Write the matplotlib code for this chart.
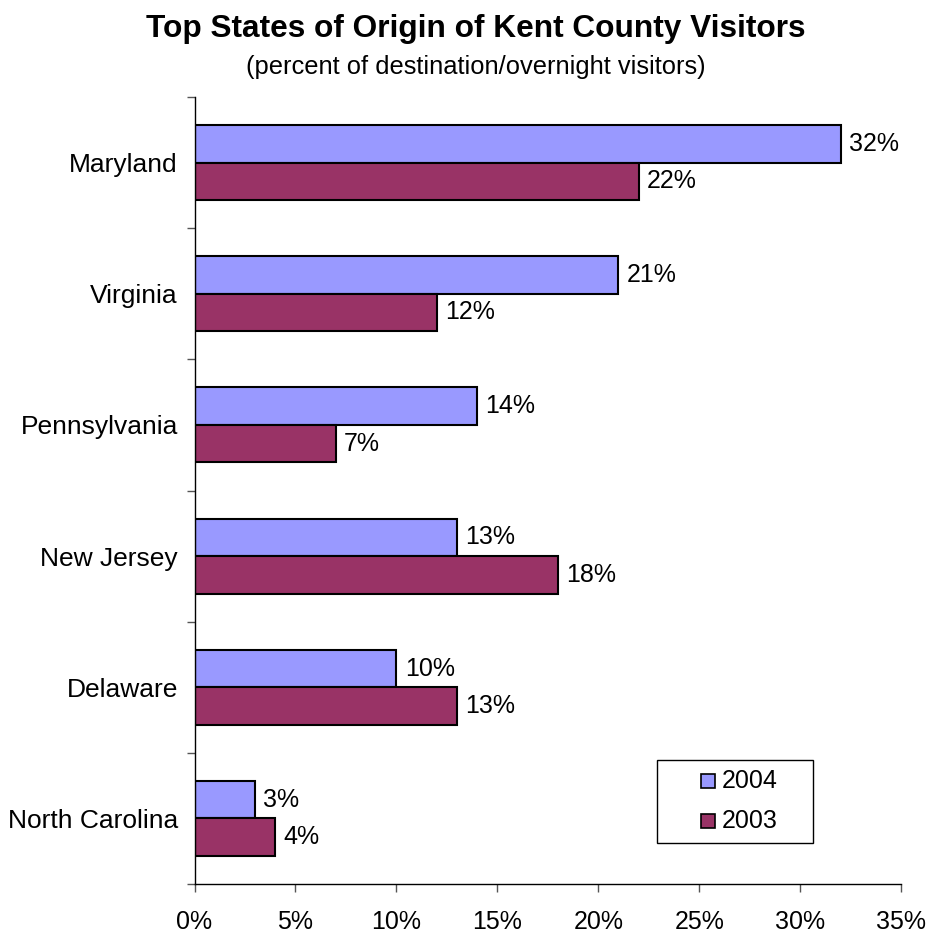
import numpy as np
import matplotlib.pyplot as plt
from matplotlib.patches import Rectangle

# ===== Данные =====
states = ['Maryland', 'Virginia', 'Pennsylvania', 'New Jersey', 'Delaware', 'North Carolina']
share_2004 = [32, 21, 14, 13, 10, 3]
share_2003 = [22, 12, 7, 18, 13, 4]
x_ticks = [0, 5, 10, 15, 20, 25, 30, 35]
series = [('2004', '#9999FF'), ('2003', '#993366')]

plt.rcParams['font.family'] = ['Liberation Sans', 'DejaVu Sans']

W, H = 928, 935
fig = plt.figure(figsize=(W / 100, H / 100), dpi=100)
ax = fig.add_axes([0.2096, 0.0545, 0.7614, 0.8418])

y = np.arange(len(states))
h = 0.286
bars04 = ax.barh(y - h / 2, share_2004, height=h, color=series[0][1],
                 edgecolor='black', linewidth=1.5)
bars03 = ax.barh(y + h / 2, share_2003, height=h, color=series[1][1],
                 edgecolor='black', linewidth=1.5)

# подписи значений справа от столбцов
for bars, vals in ((bars04, share_2004), (bars03, share_2003)):
    for b, v in zip(bars, vals):
        ax.annotate(f'{v}%', (v, b.get_y() + b.get_height() / 2),
                    xytext=(6, 0), textcoords='offset points',
                    ha='left', va='center', fontsize=18)

ax.set_xlim(0, 35)
ax.set_ylim(len(states) - 0.5, -0.5)

ax.set_xticks(x_ticks)
ax.set_xticklabels([f'{t}%' for t in x_ticks], fontsize=18)

# деления на границах категорий, подписи — по центру
ax.set_yticks(np.arange(-0.5, len(states), 1.0))
ax.set_yticklabels([])
ax.set_yticks(y, minor=True)
ax.set_yticklabels(states, minor=True, fontsize=19)
ax.tick_params(axis='y', which='minor', length=0, pad=12)
ax.tick_params(axis='y', which='major', length=6, width=1, color='#555555')
ax.tick_params(axis='x', length=6, width=1, color='#555555', pad=13)

for side in ('top', 'right'):
    ax.spines[side].set_visible(False)
for side in ('left', 'bottom'):
    ax.spines[side].set_linewidth(1)
    ax.spines[side].set_color('black')

fig.text(476 / W, 1 - 37 / H, 'Top States of Origin of Kent County Visitors',
         ha='center', va='baseline', fontsize=22.8, fontweight='bold')
fig.text(476 / W, 1 - 74 / H, '(percent of destination/overnight visitors)',
         ha='center', va='baseline', fontsize=18.4)

# легенда: рамка, квадратики и подписи (в пикселях фигуры)
fig.patches.append(Rectangle((657 / W, 1 - 843 / H), 156 / W, 83 / H,
                             transform=fig.transFigure, fill=False,
                             edgecolor='black', linewidth=1))
for i, (name, col) in enumerate(series):
    yc = 781 + i * 40
    fig.patches.append(Rectangle((701 / W, 1 - (yc + 7) / H), 14 / W, 14 / H,
                                 transform=fig.transFigure, facecolor=col,
                                 edgecolor='black', linewidth=1.2))
    fig.text(722 / W, 1 - yc / H, name, ha='left', va='center', fontsize=18)

fig.savefig('out.png', dpi=100)
